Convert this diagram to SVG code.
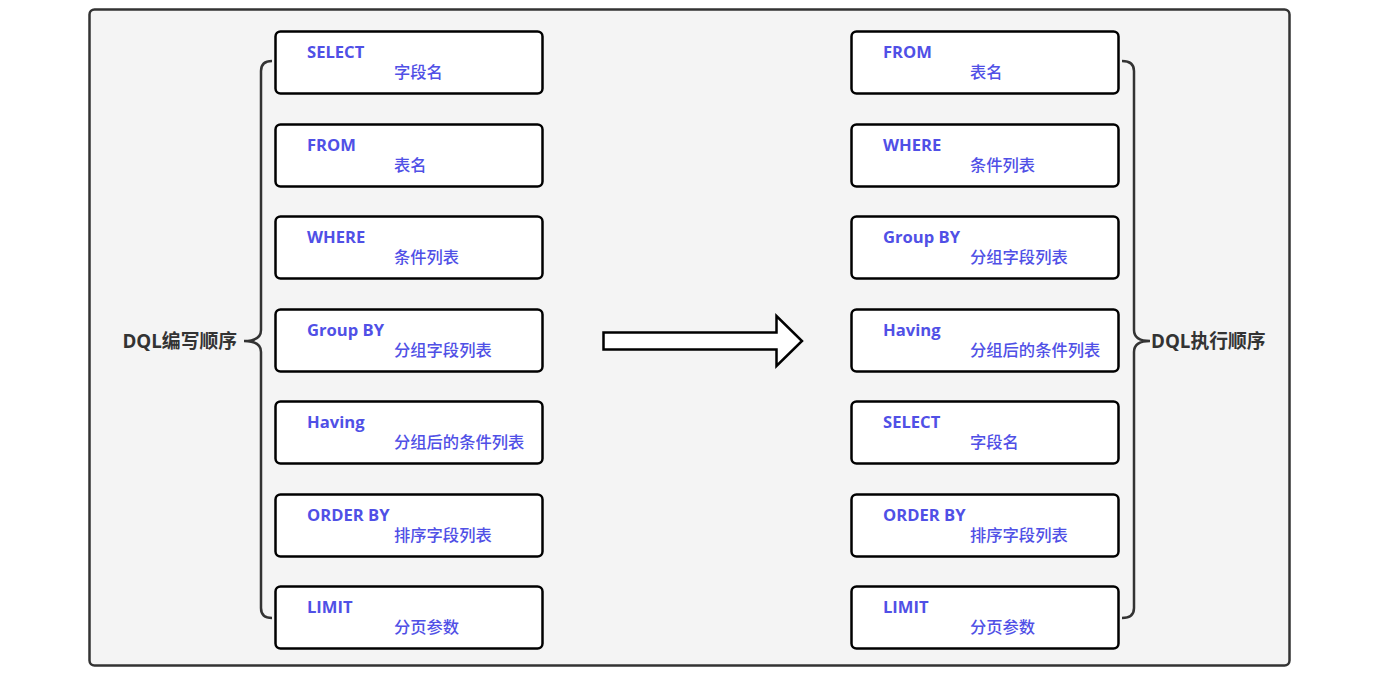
<svg xmlns="http://www.w3.org/2000/svg" width="1384" height="675" viewBox="0 0 1384 675">
<style>
.box{fill:#fff;stroke:#000;stroke-width:2.5}
.k{font-family:"Open Sans","Noto Sans","Noto Sans CJK SC",sans-serif;font-weight:bold;font-size:16.6px;fill:#5050e6}
.v{font-family:"Noto Sans CJK SC",sans-serif;font-weight:500;font-size:16.3px;fill:#5050e6}
.lbl{font-family:"Open Sans","Noto Sans CJK SC",sans-serif;font-weight:bold;font-size:18.8px;fill:#333}
.br{fill:none;stroke:#333;stroke-width:2.5}
</style>
<rect x="89.5" y="9.5" width="1200" height="656" rx="5" fill="#f4f4f4" stroke="#333" stroke-width="2.5"/>
<g id="connectors">
<path class="br" d="M272 61 Q261 61 261 71 L261 330 Q261 341 244 341 Q261 341 261 352 L261 608 Q261 618 272 618"/>
<path class="br" d="M1122 61 Q1134 61 1134 71 L1134 330 Q1134 341 1150 341 Q1134 341 1134 352 L1134 608 Q1134 618 1122 618"/>
<path d="M603.5 332.5 L776.5 332.5 L776.5 316 L802 341 L776.5 366 L776.5 349.5 L603.5 349.5 Z" fill="#fff" stroke="#000" stroke-width="2.5" stroke-linejoin="miter"/>
</g>
<g id="label-left"><text class="lbl" x="237" y="348" text-anchor="end">DQL编写顺序</text></g>
<g id="label-right"><text class="lbl" x="1151" y="348">DQL执行顺序</text></g>
<g id="l1"><rect class="box" x="275.5" y="31.5" width="267" height="62" rx="5"/><text class="k" x="307" y="58">SELECT</text><text class="v" x="394" y="78">字段名</text></g>
<g id="l2"><rect class="box" x="275.5" y="124.5" width="267" height="62" rx="5"/><text class="k" x="307" y="151">FROM</text><text class="v" x="394" y="171">表名</text></g>
<g id="l3"><rect class="box" x="275.5" y="216.5" width="267" height="62" rx="5"/><text class="k" x="307" y="243">WHERE</text><text class="v" x="394" y="263">条件列表</text></g>
<g id="l4"><rect class="box" x="275.5" y="309.5" width="267" height="62" rx="5"/><text class="k" x="307" y="336">Group BY</text><text class="v" x="394" y="356">分组字段列表</text></g>
<g id="l5"><rect class="box" x="275.5" y="401.5" width="267" height="62" rx="5"/><text class="k" x="307" y="428">Having</text><text class="v" x="394" y="448">分组后的条件列表</text></g>
<g id="l6"><rect class="box" x="275.5" y="494.5" width="267" height="62" rx="5"/><text class="k" x="307" y="521">ORDER BY</text><text class="v" x="394" y="541">排序字段列表</text></g>
<g id="l7"><rect class="box" x="275.5" y="586.5" width="267" height="62" rx="5"/><text class="k" x="307" y="613">LIMIT</text><text class="v" x="394" y="633">分页参数</text></g>
<g id="r1"><rect class="box" x="851.5" y="31.5" width="267" height="62" rx="5"/><text class="k" x="883" y="58">FROM</text><text class="v" x="970" y="78">表名</text></g>
<g id="r2"><rect class="box" x="851.5" y="124.5" width="267" height="62" rx="5"/><text class="k" x="883" y="151">WHERE</text><text class="v" x="970" y="171">条件列表</text></g>
<g id="r3"><rect class="box" x="851.5" y="216.5" width="267" height="62" rx="5"/><text class="k" x="883" y="243">Group BY</text><text class="v" x="970" y="263">分组字段列表</text></g>
<g id="r4"><rect class="box" x="851.5" y="309.5" width="267" height="62" rx="5"/><text class="k" x="883" y="336">Having</text><text class="v" x="970" y="356">分组后的条件列表</text></g>
<g id="r5"><rect class="box" x="851.5" y="401.5" width="267" height="62" rx="5"/><text class="k" x="883" y="428">SELECT</text><text class="v" x="970" y="448">字段名</text></g>
<g id="r6"><rect class="box" x="851.5" y="494.5" width="267" height="62" rx="5"/><text class="k" x="883" y="521">ORDER BY</text><text class="v" x="970" y="541">排序字段列表</text></g>
<g id="r7"><rect class="box" x="851.5" y="586.5" width="267" height="62" rx="5"/><text class="k" x="883" y="613">LIMIT</text><text class="v" x="970" y="633">分页参数</text></g>
</svg>
